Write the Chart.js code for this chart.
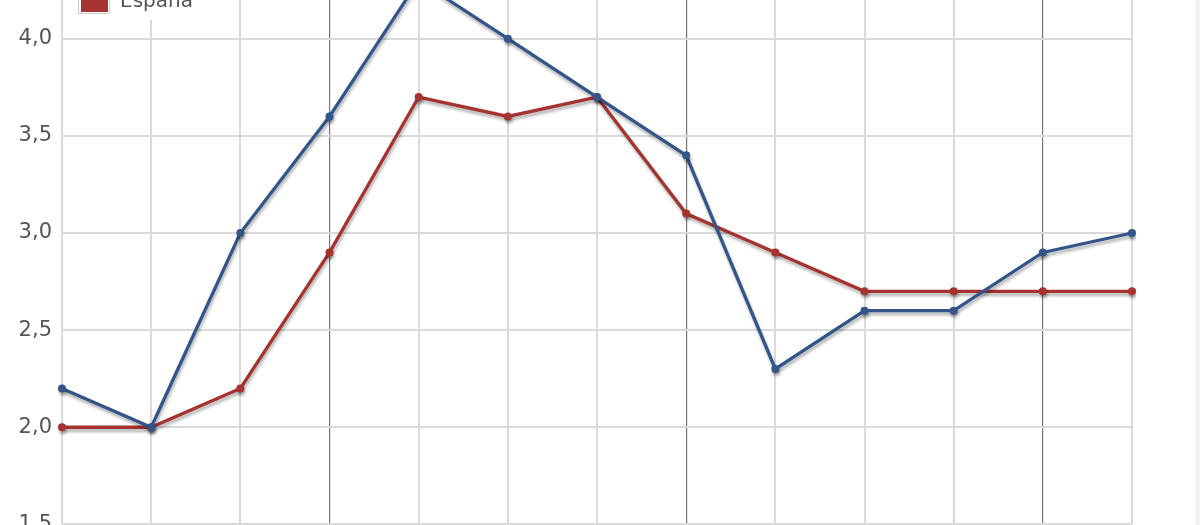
<!DOCTYPE html>
<html>
<head>
<meta charset="utf-8">
<script src="https://cdn.jsdelivr.net/npm/chart.js@4.4.0/dist/chart.umd.min.js"></script>
<style>
  html, body { margin: 0; padding: 0; background: #fff; }
  #wrap { position: relative; width: 1200px; height: 525px; overflow: hidden; }
  #grafico { position: absolute; left: 0; top: -81px; }
  #borde { position: absolute; right: 0; top: 0; width: 5px; height: 525px; background: #f1f1f1; }
</style>
</head>
<body>
<div id="wrap">
  <canvas id="grafico" width="1200" height="628"></canvas>
  <div id="borde"></div>
</div>
<script>
// trimestres (las etiquetas del eje X quedan fuera del recorte)
const periodos = ["T2 2015", "T3 2015", "T4 2015", "T1 2016", "T2 2016", "T3 2016", "T4 2016",
  "T1 2017", "T2 2017", "T3 2017", "T4 2017", "T1 2018", "T2 2018"];
const zonaEuro = [2.2, 2.0, 3.0, 3.6, 4.3, 4.0, 3.7, 3.4, 2.3, 2.6, 2.6, 2.9, 3.0];
const espana = [2.0, 2.0, 2.2, 2.9, 3.7, 3.6, 3.7, 3.1, 2.9, 2.7, 2.7, 2.7, 2.7];
const ticksY = [1.5, 2.0, 2.5, 3.0, 3.5, 4.0, 4.5];

const AZUL = "#34558a";
const ROJO = "#a5332f";
const FUENTE = "'DejaVu Sans', Verdana, sans-serif";

// sombra gris bajo las lineas
const sombra = {
  id: "sombra",
  beforeDatasetsDraw(chart) {
    const ctx = chart.ctx;
    ctx.save();
    ctx.shadowColor = "rgba(0,0,0,0.3)";
    ctx.shadowOffsetX = 1;
    ctx.shadowOffsetY = 3;
    ctx.shadowBlur = 3;
  },
  afterDatasetsDraw(chart) {
    chart.ctx.restore();
  }
};

// leyenda dentro del area del grafico, arriba a la izquierda
const leyenda = {
  id: "leyenda",
  afterDraw(chart) {
    const ctx = chart.ctx;
    const x0 = chart.chartArea.left + 1;
    ctx.save();
    ctx.fillStyle = "#fff";
    ctx.fillRect(x0, 41, 160, 60);
    chart.data.datasets.forEach((ds, i) => {
      const base = 62 + i * 26;
      ctx.fillStyle = "#fff";
      ctx.strokeStyle = "#cfcfcf";
      ctx.lineWidth = 1;
      ctx.fillRect(78, base - 11, 32, 18);
      ctx.strokeRect(78.5, base - 10.5, 31, 17);
      ctx.fillStyle = ds.borderColor;
      ctx.fillRect(81, base - 8, 27, 13);
      ctx.fillStyle = "#555";
      ctx.font = "20px " + FUENTE;
      ctx.textBaseline = "alphabetic";
      ctx.fillText(ds.label, 120, base);
    });
    ctx.restore();
  }
};

function serie(label, datos, color) {
  return {
    label: label,
    data: datos,
    borderColor: color,
    backgroundColor: color,
    borderWidth: 3.3,
    pointRadius: 4,
    pointBackgroundColor: color,
    pointBorderWidth: 0,
    tension: 0,
    fill: false
  };
}

new Chart(document.getElementById("grafico"), {
  type: "line",
  data: {
    labels: periodos,
    datasets: [
      serie("Zona euro", zonaEuro, AZUL),
      serie("España", espana, ROJO)
    ]
  },
  options: {
    responsive: false,
    animation: false,
    layout: { padding: { top: 0, bottom: 0, left: 0, right: 68 } },
    plugins: {
      legend: { display: false },
      tooltip: { enabled: false }
    },
    scales: {
      x: {
        offset: false,
        afterFit: s => { s.height = 0; },
        ticks: { display: false },
        border: { display: false },
        grid: {
          drawTicks: false,
          color: c => (c.index % 4 === 3 ? "#777" : "#dadada"),
          lineWidth: c => (c.index % 4 === 3 ? 1.2 : 2)
        }
      },
      y: {
        min: ticksY[0],
        max: ticksY[ticksY.length - 1],
        afterFit: s => { s.width = 62; },
        afterBuildTicks: s => { s.ticks = ticksY.map(v => ({ value: v })); },
        border: { display: false },
        grid: { drawTicks: false, color: "#dadada", lineWidth: 2 },
        ticks: {
          padding: 10,
          color: "#555",
          font: { family: FUENTE, size: 21 },
          callback: v => v.toFixed(1).replace(".", ",")
        }
      }
    }
  },
  plugins: [sombra, leyenda]
});
</script>
</body>
</html>
